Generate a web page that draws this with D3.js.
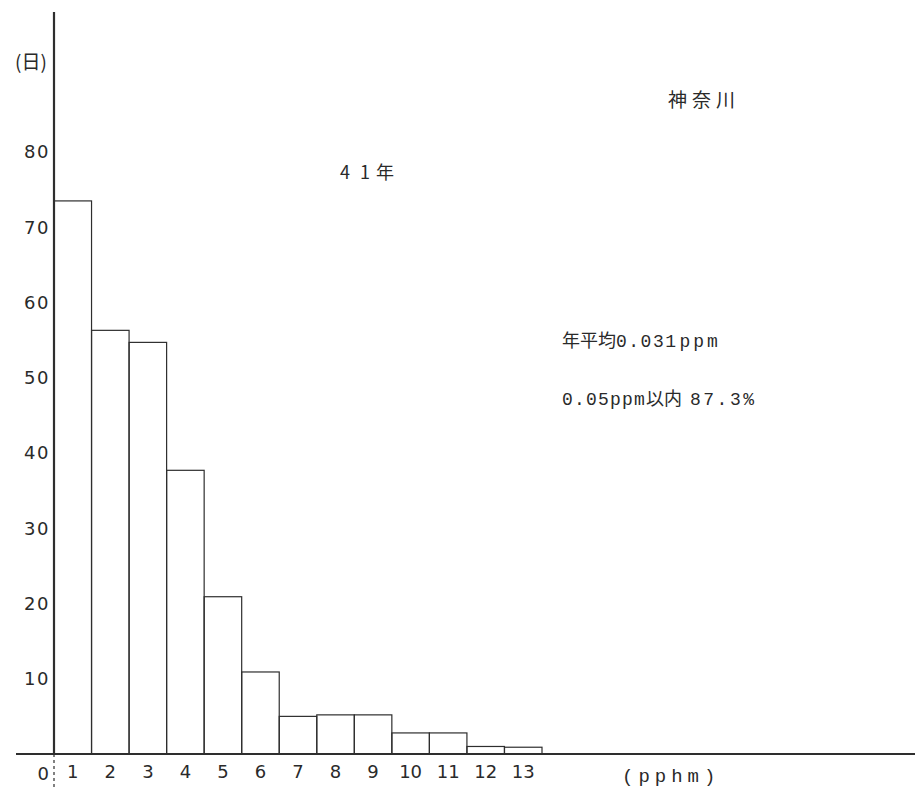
<!DOCTYPE html>
<html>
<head>
<meta charset="utf-8">
<script src="https://cdn.jsdelivr.net/npm/d3@7"></script>
<style>
  html, body { margin: 0; padding: 0; background: #fff; }
  svg { display: block; }
  text { fill: #2a2a2a; }
</style>
</head>
<body>
<div id="chart"></div>
<script>
// Distribution of daily mean concentration (pphm) — number of days per class
const classes = [1, 2, 3, 4, 5, 6, 7, 8, 9, 10, 11, 12, 13];
const days = [73.5, 56.3, 54.7, 37.7, 20.9, 10.9, 5.0, 5.2, 5.2, 2.8, 2.8, 1.0, 0.9];
const yTicks = [10, 20, 30, 40, 50, 60, 70, 80];

const W = 915, H = 790;
const originX = 54, baseY = 754;

const svg = d3.select("#chart").append("svg")
  .attr("width", W).attr("height", H);

const x = d3.scaleBand().domain(classes).range([originX, 542]).padding(0);
const y = d3.scaleLinear().domain([0, 80]).range([baseY, 152]);

const ink = "#2e2e2e";
const fontSans = "'DejaVu Sans', 'Noto Sans', sans-serif";
const fontCJK = "'Noto Sans CJK JP', 'Noto Sans', sans-serif";
const fontMono = "'Liberation Mono', 'DejaVu Sans Mono', monospace";

// bars
svg.append("g").selectAll("rect")
  .data(classes)
  .join("rect")
  .attr("x", d => x(d))
  .attr("y", (d, i) => y(days[i]))
  .attr("width", x.bandwidth())
  .attr("height", (d, i) => baseY - y(days[i]))
  .attr("fill", "none")
  .attr("stroke", ink)
  .attr("stroke-width", 1.2);

// horizontal axis line
svg.append("line")
  .attr("x1", 16).attr("x2", W).attr("y1", baseY).attr("y2", baseY)
  .attr("stroke", ink).attr("stroke-width", 2);

// vertical axis line (continues dotted below the baseline)
svg.append("line")
  .attr("x1", originX).attr("x2", originX).attr("y1", 12).attr("y2", baseY)
  .attr("stroke", ink).attr("stroke-width", 2.2);
svg.append("line")
  .attr("x1", originX).attr("x2", originX).attr("y1", baseY).attr("y2", H)
  .attr("stroke", ink).attr("stroke-width", 1.2).attr("stroke-dasharray", "3,3");

// y tick labels
const yAxis = d3.axisLeft(y).tickValues(yTicks).tickSize(0).tickPadding(4);
const gy = svg.append("g").attr("transform", `translate(${originX},0)`).call(yAxis);
gy.select(".domain").remove();
gy.selectAll("text")
  .attr("font-family", fontSans).attr("font-size", 18)
  .attr("letter-spacing", 1.5).attr("fill", "#2a2a2a");

// x tick labels
const xAxis = d3.axisBottom(x).tickSize(0).tickPadding(11);
const gx = svg.append("g").attr("transform", `translate(0,${baseY})`).call(xAxis);
gx.select(".domain").remove();
gx.selectAll("text")
  .attr("font-family", fontSans).attr("font-size", 18).attr("fill", "#2a2a2a");

svg.append("text")
  .attr("x", 49).attr("y", baseY + 26)
  .attr("text-anchor", "end")
  .attr("font-family", fontSans).attr("font-size", 18)
  .text("0");

// unit labels
svg.append("text")
  .attr("x", 15).attr("y", 69)
  .attr("font-family", fontCJK).attr("font-size", 19)
  .text("(日)");

svg.append("text")
  .attr("x", 622).attr("y", 782)
  .attr("font-family", fontMono).attr("font-size", 19)
  .attr("letter-spacing", 5)
  .text("(pphm)");

// annotations
svg.append("text")
  .attr("x", 668).attr("y", 107)
  .attr("font-family", fontCJK).attr("font-size", 19)
  .attr("letter-spacing", 5)
  .text("神奈川");

const yr = svg.append("text").attr("x", 340).attr("y", 179)
  .attr("font-family", fontCJK).attr("font-size", 18);
yr.append("tspan").text("4");
yr.append("tspan").attr("dx", 10).text("1");
yr.append("tspan").attr("dx", 6).text("年");

const t1 = svg.append("text").attr("x", 562).attr("y", 347).attr("font-size", 18);
t1.append("tspan").attr("font-family", fontCJK).text("年平均");
t1.append("tspan").attr("font-family", fontMono).attr("letter-spacing", 1.5).text("0.031");
t1.append("tspan").attr("font-family", fontMono).attr("letter-spacing", 3).attr("dx", 2).text("ppm");

const t2 = svg.append("text").attr("x", 562).attr("y", 405).attr("font-size", 18);
t2.append("tspan").attr("font-family", fontMono).attr("letter-spacing", 1.2).text("0.05ppm");
t2.append("tspan").attr("font-family", fontCJK).text("以内");
t2.append("tspan").attr("font-family", fontMono).attr("letter-spacing", 2.5).attr("dx", 8).text("87.3%");
</script>
</body>
</html>
